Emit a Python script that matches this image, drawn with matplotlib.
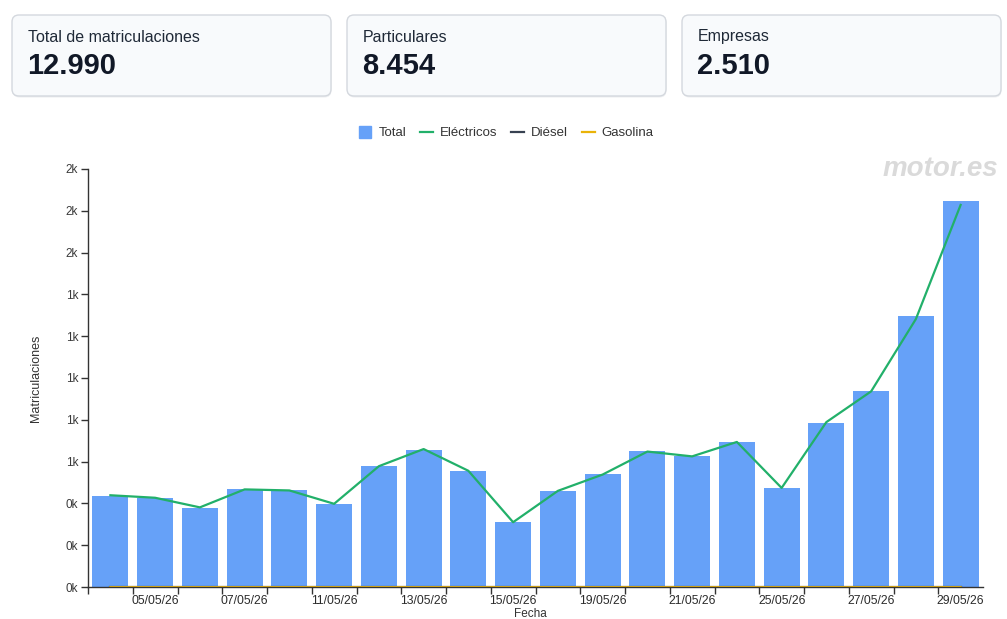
"""
Matriculaciones diarias - mayo 2026
"""

import matplotlib
matplotlib.use('Agg')
import matplotlib.pyplot as plt
from matplotlib.patches import FancyBboxPatch
from matplotlib.lines import Line2D

plt.rcParams['font.family'] = ['Liberation Sans', 'DejaVu Sans']

# datos
fechas = ['04/05/26', '05/05/26', '06/05/26', '07/05/26', '08/05/26',
          '11/05/26', '12/05/26', '13/05/26', '14/05/26', '15/05/26',
          '18/05/26', '19/05/26', '20/05/26', '21/05/26', '22/05/26',
          '25/05/26', '26/05/26', '27/05/26', '28/05/26', '29/05/26']
total = [437, 428, 378, 468, 464, 395, 580, 657, 555, 309,
         460, 542, 649, 628, 694, 473, 786, 938, 1295, 1848]
electricos = [439, 427, 381, 467, 462, 398, 578, 660, 556, 310,
              460, 538, 648, 625, 694, 474, 789, 936, 1282, 1828]
diesel = [0] * 20
gasolina = [0] * 20

tarjetas = ['Total de matriculaciones', 'Particulares', 'Empresas']
tarjetas_valores = ['12.990', '8.454', '2.510']
yticks = [0, 200, 400, 600, 800, 1000, 1200, 1400, 1600, 1800, 2000]

W, H = 1007, 619
fig = plt.figure(figsize=(W / 100, H / 100), dpi=100)

# capa de fondo en pixeles para tarjetas y textos sueltos
bg = fig.add_axes([0, 0, 1, 1], zorder=0)
bg.set_xlim(0, W)
bg.set_ylim(H, 0)
bg.axis('off')

card_x = [12, 347, 682]
for x0, titulo, valor in zip(card_x, tarjetas, tarjetas_valores):
    sombra = FancyBboxPatch((x0 + 0.5, 16.5), 319, 81,
                            boxstyle='round,pad=0,rounding_size=7',
                            facecolor='#e5e7eb', edgecolor='none', alpha=0.7)
    bg.add_patch(sombra)
    card = FancyBboxPatch((x0, 15), 319, 81,
                          boxstyle='round,pad=0,rounding_size=7',
                          facecolor='#f8fafc', edgecolor='#d4d8de', linewidth=1)
    bg.add_patch(card)
    bg.text(x0 + 16, 37, titulo, fontsize=11.5, color='#1f2937', va='center')
    bg.text(x0 + 15, 66, valor, fontsize=21, fontweight='bold',
            color='#111827', va='center')

bg.text(998, 169, 'motor.es', fontsize=20, fontweight='bold', style='italic',
        color='#dadada', ha='right', va='center')
bg.text(36, 378, 'Matriculaciones', fontsize=9, color='#333333',
        rotation=90, ha='center', va='center')
bg.text(530, 608, 'Fecha', fontsize=8.5, color='#333333', ha='center', va='top')

# grafico principal
ax = fig.add_axes([88 / W, (H - 587) / H, (983 - 88) / W, (587 - 169) / H],
                  zorder=1)
ax.patch.set_alpha(0)
x = list(range(len(fechas)))
ax.bar(x, total, width=0.8, color='#66a1f8', zorder=1)
ax.plot(x, electricos, color='#22b06a', linewidth=1.6, zorder=3)
ax.plot(x, diesel, color='#374151', linewidth=1.6, zorder=3)
ax.plot(x, gasolina, color='#eab308', linewidth=1.2, zorder=4)

ax.set_xlim(-0.5, len(fechas) - 0.5)
ax.set_ylim(0, 2000)
ax.set_yticks(yticks)
ax.set_yticklabels(['{:.0f}k'.format(v / 1000) for v in yticks])

# marcas en los bordes de cada banda, etiqueta en dias alternos
ax.set_xticks([i - 0.5 for i in x])
ax.set_xticklabels([])
ax.set_xticks(x[1::2], minor=True)
ax.set_xticklabels(fechas[1::2], minor=True)
ax.tick_params(axis='x', which='major', length=5, color='#333333', width=1)
ax.tick_params(axis='x', which='minor', length=0, pad=6,
               labelsize=8.7, labelcolor='#2b2b2b')
ax.tick_params(axis='y', length=5, color='#333333', width=1, pad=2,
               labelsize=8.5, labelcolor='#3a3a3a')

for s in ['top', 'right']:
    ax.spines[s].set_visible(False)
for s in ['left', 'bottom']:
    ax.spines[s].set_color('#333333')
    ax.spines[s].set_linewidth(1)

handles = [
    Line2D([], [], marker='s', linestyle='none', markersize=9,
           markerfacecolor='#66a1f8', markeredgecolor='#66a1f8'),
    Line2D([], [], color='#22b06a', linewidth=1.6),
    Line2D([], [], color='#374151', linewidth=1.6),
    Line2D([], [], color='#eab308', linewidth=1.6),
]
fig.legend(handles, ['Total', 'Eléctricos', 'Diésel', 'Gasolina'],
           loc='center', bbox_to_anchor=(506 / W, 1 - 133 / H), ncol=4,
           frameon=False, fontsize=9.5, handlelength=1.0, handletextpad=0.5,
           columnspacing=1.05, labelcolor='#333333')

fig.savefig('out.png', dpi=100)
